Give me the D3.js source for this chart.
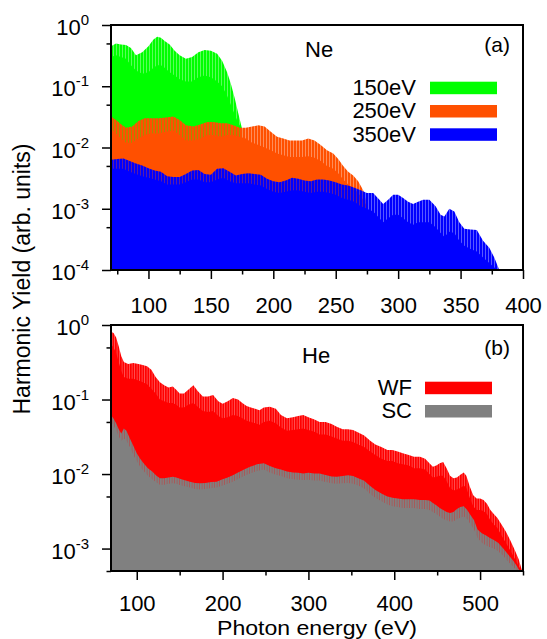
<!DOCTYPE html>
<html><head><meta charset="utf-8">
<script src="https://cdn.jsdelivr.net/npm/d3@7"></script>
<style>
body{margin:0;background:#fff}
svg{display:block}
text{font-family:"Liberation Sans",Arial,Helvetica,sans-serif;fill:#000}
</style>
</head><body>
<svg id="c" width="547" height="639"></svg>
<script>
// ---------- Panel (a): Ne ----------
const neXMajor = [100,150,200,250,300,350,400];
const neXMinor = [75,125,175,225,275,325,375];
const neYMajor = [1,0.1,0.01,0.001,0.0001];
const neYMinor = [0.5,0.05,0.005,0.0005];

const ne150E      = [70,74,78,82,86,90,95,100,104,107,110,113,117,121,125,130,135,140,145,150,155,159,163,166,169,172,175];
const ne150Peak   = [0.45,0.5,0.48,0.47,0.42,0.32,0.36,0.45,0.58,0.64,0.62,0.55,0.48,0.38,0.32,0.28,0.3,0.36,0.39,0.38,0.34,0.26,0.17,0.11,0.065,0.036,0.02];
const ne150Trough = [0.3,0.32,0.3,0.28,0.22,0.18,0.16,0.17,0.2,0.22,0.22,0.2,0.17,0.15,0.13,0.12,0.12,0.14,0.15,0.14,0.12,0.1,0.07,0.05,0.035,0.025,0.02];

const ne250E      = [70,74,78,82,87,92,97,102,108,114,120,125,130,136,142,147,152,158,163,168,173,178,183,188,193,198,203,208,213,218,223,228,233,238,243,248,252,256,260,264,268,272,275];
const ne250Peak   = [0.032,0.028,0.024,0.021,0.022,0.027,0.03,0.03,0.03,0.031,0.032,0.028,0.023,0.022,0.024,0.026,0.026,0.025,0.025,0.023,0.021,0.021,0.022,0.023,0.022,0.018,0.015,0.014,0.013,0.013,0.013,0.014,0.013,0.011,0.009,0.008,0.0065,0.005,0.004,0.0035,0.0028,0.002,0.0012];
const ne250Trough = [0.02,0.017,0.014,0.012,0.012,0.014,0.016,0.017,0.017,0.018,0.019,0.016,0.013,0.013,0.014,0.016,0.016,0.015,0.016,0.016,0.015,0.014,0.012,0.011,0.01,0.009,0.008,0.0075,0.007,0.007,0.007,0.0072,0.0068,0.006,0.005,0.0045,0.0038,0.003,0.0025,0.0022,0.0018,0.0014,0.0011];

const ne350E      = [70,75,80,85,90,95,100,105,110,115,120,125,130,135,140,145,150,155,160,165,170,175,180,185,190,195,200,205,210,215,220,225,230,235,240,245,250,255,260,265,270,275,280,285,288,292,296,300,304,308,312,316,320,325,330,334,337,341,345,349,353,358,363,368,373,377,381];
const ne350Peak   = [0.0063,0.0065,0.0066,0.006,0.0055,0.0051,0.0046,0.0042,0.004,0.0034,0.0033,0.0033,0.0037,0.0042,0.0043,0.0037,0.0036,0.0045,0.0046,0.004,0.0035,0.0037,0.0038,0.0037,0.0036,0.0031,0.0028,0.0027,0.0029,0.0032,0.0031,0.0029,0.0028,0.003,0.003,0.0029,0.0027,0.0025,0.0024,0.0022,0.002,0.0018,0.0018,0.0014,0.0012,0.0014,0.0017,0.0017,0.0015,0.0013,0.0012,0.0013,0.0014,0.0014,0.0011,0.0008,0.00075,0.001,0.0009,0.0006,0.00047,0.00046,0.00045,0.0003,0.00023,0.00016,0.0001];
const ne350Trough = [0.0045,0.0045,0.0045,0.004,0.0037,0.0034,0.0032,0.003,0.0028,0.0025,0.0025,0.0025,0.0027,0.003,0.003,0.0027,0.0027,0.003,0.0032,0.0028,0.0026,0.0026,0.0026,0.0025,0.0024,0.0021,0.0019,0.0018,0.0019,0.002,0.002,0.0019,0.0018,0.0019,0.0019,0.0018,0.0017,0.0015,0.0014,0.0013,0.0011,0.001,0.0009,0.0007,0.0006,0.0007,0.0008,0.0008,0.0007,0.0006,0.00055,0.0006,0.0006,0.0006,0.0005,0.0004,0.00035,0.00042,0.0004,0.0003,0.00025,0.00022,0.0002,0.00016,0.00013,0.00011,0.0001];

// ---------- Panel (b): He ----------
const heXMajor = [100,200,300,400,500];
const heXMinor = [150,250,350,450,550];
const heYMajor = [1,0.1,0.01,0.001];
const heYMinor = [0.5,0.05,0.005,0.0005];

const wfE      = [70,73,76,79,82,85,90,96,102,107,112,117,122,127,132,137,142,146,150,155,160,166,171,177,183,189,195,200,206,212,218,223,228,233,238,243,248,255,262,268,275,282,288,294,300,307,313,320,327,333,340,346,352,358,365,372,378,385,392,398,404,410,417,423,430,436,441,445,449,453,457,461,465,469,473,477,481,484,488,492,496,500,504,508,512,516,520,525,530,535,540,545,549];
const wfPeak   = [0.81,0.78,0.68,0.52,0.38,0.32,0.3,0.31,0.3,0.29,0.28,0.25,0.2,0.17,0.155,0.145,0.15,0.135,0.12,0.12,0.135,0.155,0.13,0.11,0.11,0.115,0.095,0.088,0.095,0.105,0.1,0.09,0.082,0.078,0.075,0.072,0.078,0.08,0.075,0.062,0.056,0.058,0.06,0.062,0.058,0.054,0.05,0.05,0.047,0.043,0.04,0.04,0.039,0.036,0.033,0.028,0.025,0.023,0.021,0.021,0.02,0.019,0.018,0.017,0.017,0.016,0.014,0.0125,0.013,0.014,0.0145,0.012,0.0095,0.0088,0.009,0.0098,0.0105,0.0095,0.0068,0.0052,0.0047,0.0047,0.0045,0.004,0.0033,0.0029,0.0026,0.0021,0.0017,0.0013,0.00098,0.00072,0.0005];
const wfTrough = [0.55,0.5,0.42,0.32,0.24,0.2,0.19,0.19,0.18,0.17,0.16,0.14,0.12,0.1,0.095,0.09,0.09,0.085,0.078,0.078,0.085,0.09,0.08,0.07,0.068,0.07,0.06,0.056,0.058,0.062,0.06,0.056,0.052,0.05,0.048,0.046,0.05,0.052,0.048,0.042,0.038,0.039,0.04,0.041,0.039,0.037,0.034,0.034,0.032,0.03,0.028,0.028,0.027,0.025,0.023,0.02,0.018,0.016,0.015,0.015,0.014,0.0135,0.013,0.012,0.012,0.0115,0.01,0.009,0.0092,0.0095,0.0095,0.008,0.0065,0.006,0.0062,0.0065,0.007,0.0065,0.0048,0.0037,0.0033,0.0033,0.0032,0.0029,0.0024,0.0021,0.0019,0.0015,0.0012,0.00095,0.00075,0.00058,0.0005];

const scE      = [70,73,76,79,82,85,88,92,96,100,104,108,113,118,123,127,132,137,142,146,152,157,162,168,174,180,187,193,200,206,212,218,225,232,240,248,255,262,268,275,282,288,294,300,307,313,320,327,333,340,346,352,358,365,372,378,385,392,398,404,410,417,423,430,436,441,445,449,453,457,461,465,469,473,477,481,485,489,493,497,502,507,511,516,521,527,532,538,543,546];
const scPeak   = [0.062,0.055,0.048,0.04,0.035,0.041,0.038,0.03,0.024,0.019,0.016,0.014,0.012,0.0108,0.0095,0.0088,0.0088,0.009,0.0092,0.009,0.0085,0.0082,0.0079,0.0076,0.0075,0.0076,0.0078,0.0079,0.0085,0.009,0.0096,0.0105,0.0115,0.0125,0.0135,0.014,0.0128,0.012,0.0115,0.0108,0.0105,0.0104,0.0102,0.0104,0.0102,0.0102,0.0097,0.0093,0.0092,0.0094,0.0096,0.0094,0.0088,0.0081,0.0069,0.0061,0.0055,0.005,0.0048,0.0047,0.0046,0.0046,0.0046,0.0045,0.0045,0.0044,0.0041,0.0038,0.0035,0.0033,0.0031,0.003,0.0031,0.0034,0.0036,0.0037,0.0033,0.0028,0.0024,0.0018,0.0016,0.0015,0.0014,0.0013,0.0012,0.001,0.00085,0.0007,0.00058,0.0005];
const scTrough = [0.05,0.045,0.038,0.032,0.028,0.03,0.028,0.023,0.018,0.015,0.0125,0.011,0.0095,0.0085,0.0077,0.0072,0.0072,0.0074,0.0075,0.0074,0.007,0.0068,0.0066,0.0063,0.0062,0.0063,0.0065,0.0066,0.007,0.0074,0.0079,0.0086,0.0094,0.0102,0.011,0.0115,0.0105,0.0098,0.0094,0.0088,0.0085,0.0084,0.0083,0.0084,0.0082,0.0082,0.0078,0.0075,0.0074,0.0075,0.0076,0.0074,0.007,0.0064,0.0054,0.0048,0.0043,0.0039,0.0037,0.0036,0.0035,0.0035,0.0035,0.0034,0.0034,0.0033,0.0031,0.0029,0.0027,0.0025,0.0024,0.0023,0.0023,0.0025,0.0026,0.0027,0.0025,0.0021,0.0018,0.0014,0.0012,0.0011,0.00105,0.001,0.00092,0.0008,0.00068,0.00058,0.0005,0.0005];

// ---------- drawing ----------
const svg = d3.select("#c");
const defs = svg.append("defs");
const L = 111, R = 523;

function stripe(id, color, period, solid) {
  const p = defs.append("pattern").attr("id", id).attr("patternUnits", "userSpaceOnUse")
    .attr("width", period).attr("height", 10);
  p.append("rect").attr("width", period).attr("height", 10).attr("fill", color).attr("opacity", 0.65);
  p.append("rect").attr("width", solid).attr("height", 10).attr("fill", color);
}

function panel(opt) {
  const x = d3.scaleLinear().domain(opt.xDomain).range([L, R]);
  const y = d3.scaleLog().domain(opt.yDomain).range([opt.bottom, opt.top]);
  const g = svg.append("g");
  const clipId = opt.id + "clip";
  defs.append("clipPath").attr("id", clipId).append("rect")
    .attr("x", L).attr("y", opt.top).attr("width", R - L).attr("height", opt.bottom - opt.top);
  const plot = g.append("g").attr("clip-path", `url(#${clipId})`);

  opt.series.forEach((s, i) => {
    const pid = opt.id + "s" + i;
    stripe(pid, s.color, opt.period, opt.solid);
    const pts = s.E.map((e, k) => ({e, p: s.peak[k], t: s.trough[k]}));
    const areaP = d3.area().x(d => x(d.e)).y0(opt.bottom).y1(d => y(d.p));
    const areaT = d3.area().x(d => x(d.e)).y0(opt.bottom).y1(d => y(d.t));
    plot.append("path").datum(pts).attr("d", areaP).attr("fill", `url(#${pid})`);
    plot.append("path").datum(pts).attr("d", areaT).attr("fill", s.color);
  });

  // axes
  const ax = g.append("g").attr("transform", `translate(0,${opt.bottom})`);
  ax.call(d3.axisBottom(x).tickValues(opt.xMajor).tickSize(9).tickSizeOuter(0).tickFormat(d3.format("d")));
  ax.selectAll("text").attr("y", opt.xLabOff).attr("dy", null).style("font-size", "22px")
    .style("font-family", '"Liberation Sans",Arial,sans-serif');
  const axm = g.append("g").attr("transform", `translate(0,${opt.bottom})`);
  axm.call(d3.axisBottom(x).tickValues(opt.xMinor).tickSize(4.5).tickSizeOuter(0).tickFormat(""));

  const ay = g.append("g").attr("transform", `translate(${L},0)`);
  ay.call(d3.axisLeft(y).tickValues(opt.yMajor).tickSize(9).tickSizeOuter(0).tickFormat(""));
  const aym = g.append("g").attr("transform", `translate(${L},0)`);
  aym.call(d3.axisLeft(y).tickValues(opt.yMinor).tickSize(4.5).tickSizeOuter(0).tickFormat(""));

  [ax, axm, ay, aym].forEach(a => {
    a.select(".domain").remove();
    a.selectAll("line").attr("stroke", "#000").attr("stroke-width", 1.5);
  });

  opt.yMajor.forEach(v => {
    const t = g.append("text").attr("x", 89).attr("y", y(v) + 10)
      .attr("text-anchor", "end").style("font-size", "22px");
    t.append("tspan").text("10");
    t.append("tspan").attr("dy", -10).style("font-size", "15px")
      .text(String(Math.round(Math.log10(v))));
  });

  // frame
  g.append("rect").attr("x", L).attr("y", opt.top).attr("width", R - L)
    .attr("height", opt.bottom - opt.top).attr("fill", "none")
    .attr("stroke", "#000").attr("stroke-width", 2);

  // labels
  g.append("text").attr("x", opt.nameX).attr("y", opt.nameY).style("font-size", "22px").text(opt.name);
  g.append("text").attr("x", 510).attr("y", opt.tagY).attr("text-anchor", "end")
    .style("font-size", "21px").text(opt.tag);

  opt.series.forEach((s, i) => {
    const by = opt.legY + i * opt.legStep;
    g.append("text").attr("x", opt.legTextX).attr("y", by).attr("text-anchor", "end")
      .style("font-size", "22px").text(s.name);
    g.append("rect").attr("x", opt.legSwX).attr("y", by - 13.3).attr("width", 67).attr("height", 12.5)
      .attr("fill", s.color);
  });
}

panel({
  id: "ne", xDomain: [70, 400], yDomain: [1e-4, 1], top: 25, bottom: 270,
  xMajor: neXMajor, xMinor: neXMinor, yMajor: neYMajor, yMinor: neYMinor,
  period: 3, solid: 2, xLabOff: 42.5,
  name: "Ne", nameX: 305, nameY: 57, tag: "(a)", tagY: 52,
  legTextX: 416, legSwX: 430, legY: 95, legStep: 23.3,
  series: [
    {name: "150eV", color: "#00ff00", E: ne150E, peak: ne150Peak, trough: ne150Trough},
    {name: "250eV", color: "#ff5000", E: ne250E, peak: ne250Peak, trough: ne250Trough},
    {name: "350eV", color: "#0000ff", E: ne350E, peak: ne350Peak, trough: ne350Trough}
  ]
});

panel({
  id: "he", xDomain: [70, 550], yDomain: [5e-4, 1], top: 325, bottom: 571,
  xMajor: heXMajor, xMinor: heXMinor, yMajor: heYMajor, yMinor: heYMinor,
  period: 2.5, solid: 1.7, xLabOff: 39.5,
  name: "He", nameX: 302, nameY: 363, tag: "(b)", tagY: 355,
  legTextX: 412, legSwX: 425, legY: 395, legStep: 23.3,
  series: [
    {name: "WF", color: "#ff0000", E: wfE, peak: wfPeak, trough: wfTrough},
    {name: "SC", color: "#808080", E: scE, peak: scPeak, trough: scTrough}
  ]
});

svg.append("text").attr("transform", "translate(30,279) rotate(-90)")
  .attr("text-anchor", "middle").style("font-size", "23px").text("Harmonic Yield (arb. units)");
svg.append("text").attr("x", 317).attr("y", 634.5)
  .attr("text-anchor", "middle").style("font-size", "21px")
  .attr("textLength", 200).attr("lengthAdjust", "spacingAndGlyphs").text("Photon energy (eV)");
</script>
</body></html>
